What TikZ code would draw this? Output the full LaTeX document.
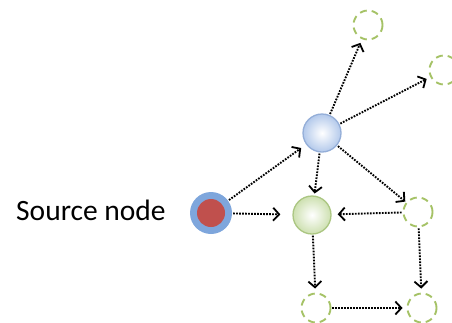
\documentclass[tikz,border=0pt]{standalone}
\usepackage{fontspec}
\setmainfont{Carlito}
\usetikzlibrary{arrows.meta}
\definecolor{ghostgreen}{HTML}{A5C266}
\definecolor{srcblue}{HTML}{7EA6DC}
\definecolor{srcred}{HTML}{C0504D}
\definecolor{bluefill}{HTML}{B3C9EB}
\definecolor{blueedge}{HTML}{94AED8}
\definecolor{greenfill}{HTML}{CDE0B0}
\definecolor{greenedge}{HTML}{ABC682}
\begin{document}
\begin{tikzpicture}[x=1pt,y=-1pt,
  conn/.style={line width=1.9pt, dash pattern=on 1.7pt off 1.3pt,
    -{Straight Barb[length=6pt,width=13pt,line width=1.8pt]},
    shorten >=4pt, shorten <=1pt},
  ghost/.style={circle, draw=ghostgreen, line width=1.9pt,
    dash pattern=on 7pt off 5pt, minimum size=29pt, inner sep=0pt},
  ball/.style={circle, inner sep=0pt, line width=1.3pt}]
\useasboundingbox (0,0) rectangle (452,322);
\node[anchor=base west, inner sep=0pt, font=\fontsize{29.5}{34}\selectfont] (lbl) at (16,220) {Source node};
\node[circle, fill=srcblue, minimum size=42pt, inner sep=0pt] (src) at (211,213) {};
\node[circle, fill=srcred, minimum size=28pt, inner sep=0pt] (srcin) at (src) {};
\node[ball, draw=greenedge, inner color=white, outer color=greenfill, minimum size=38pt] (g) at (312,215) {};
\node[ball, draw=blueedge, inner color=white, outer color=bluefill, minimum size=38pt] (b) at (322,133) {};
\node[ghost] (t1) at (368,25) {};
\node[ghost] (t2) at (444,70) {};
\node[ghost] (r) at (418,212) {};
\node[ghost] (bl) at (316,308) {};
\node[ghost] (br) at (422,308) {};
\draw[conn, shorten >=12pt] (src) -- (g);
\draw[conn, shorten >=6pt] (src) -- (b);
\draw[conn, shorten >=2pt] (b) -- (g);
\draw[conn] (b) -- (t1);
\draw[conn] (b) -- (t2);
\draw[conn, shorten >=1pt] (b) -- (r);
\draw[conn, shorten >=6pt] (r) -- (g);
\draw[conn] (g) -- (bl);
\draw[conn] (r) -- (br);
\draw[conn] (bl) -- (br);
\end{tikzpicture}
\end{document}
